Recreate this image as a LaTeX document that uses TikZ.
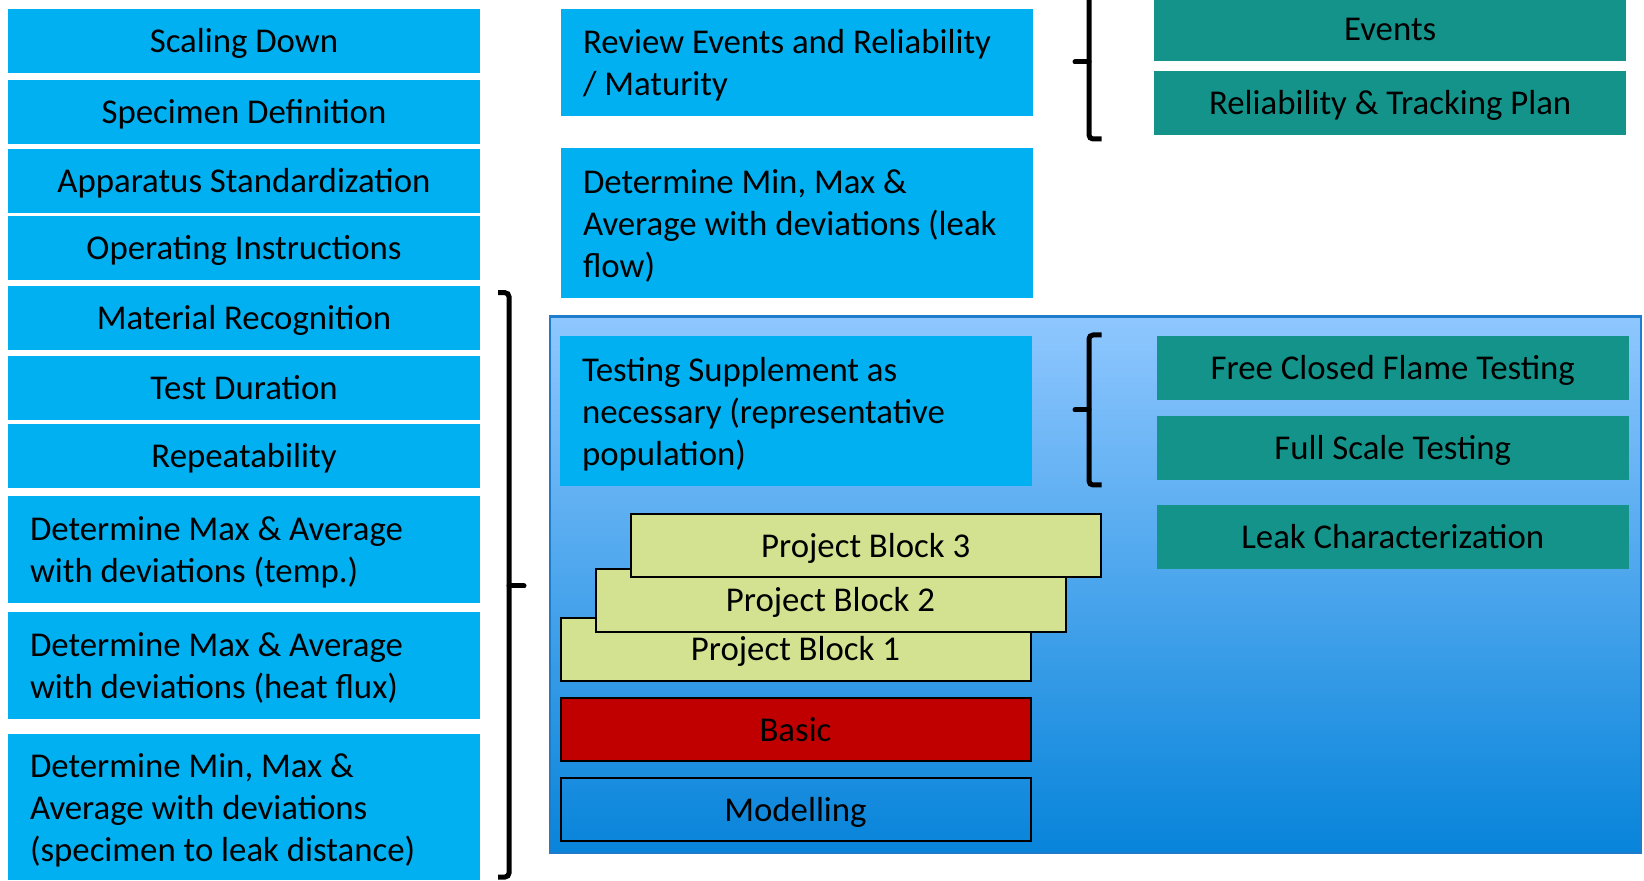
\documentclass[tikz,border=0pt]{standalone}
\usepackage{fontspec}
\setmainfont{Carlito}
\definecolor{cyanc}{HTML}{00B0F0}
\definecolor{tealc}{HTML}{14938B}
\definecolor{blockc}{HTML}{D3E291}
\definecolor{redc}{HTML}{C00000}
\definecolor{gtop}{HTML}{8FC7FF}
\definecolor{gmid}{HTML}{5EA6EE}
\definecolor{gbot}{HTML}{0784DA}
\definecolor{gborder}{HTML}{1F7CCB}
\begin{document}
\begin{tikzpicture}[x=0.5pt,y=-0.5pt,
  base/.style={inner sep=0pt, font=\fontsize{17.4pt}{21pt}\selectfont, text=black, align=center},
  one/.style={text height=11.5pt, text depth=0pt},
  cbox/.style={base, one, fill=cyanc, minimum width=236pt},
  tbox/.style={base, one, fill=tealc, minimum width=236pt, minimum height=32pt},
  pbox/.style={base, one, draw=black, line width=1pt, minimum width=235pt, minimum height=31.5pt},
  txt/.style={base, align=left, anchor=west, yshift=-1.5pt},
  brace/.style={draw=black, line width=2.5pt, rounded corners=2pt}]
\useasboundingbox (0,0) rectangle (1644,881);

% left column
\node[cbox, minimum height=32pt] (l1) at (244,41.3) {Scaling Down};
\node[cbox, minimum height=32pt] (l2) at (244,111.9) {Specimen Definition};
\node[cbox, minimum height=32pt] (l3) at (244,180.9) {Apparatus Standardization};
\node[cbox, minimum height=32pt] (l4) at (244,247.9) {Operating Instructions};
\node[cbox, minimum height=32pt] (l5) at (244,317.9) {Material Recognition};
\node[cbox, minimum height=32pt] (l6) at (244,387.9) {Test Duration};
\node[cbox, minimum height=32pt] (l7) at (244,455.9) {Repeatability};
\node[cbox, minimum height=53.35pt] (l8) at (244,549.4) {};
\node[txt] (l8t) at ([xshift=11pt]l8.west) {Determine Max \& Average\\with deviations (temp.)};
\node[cbox, minimum height=53.35pt] (l9) at (244,665.4) {};
\node[txt] (l9t) at ([xshift=11pt]l9.west) {Determine Max \& Average\\with deviations (heat flux)};
\node[cbox, minimum height=73pt] (l10) at (244,807) {};
\node[txt] (l10t) at ([xshift=11pt]l10.west) {Determine Min, Max \&\\Average with deviations\\(specimen to leak distance)};

% middle top boxes
\node[cbox, minimum height=53.35pt] (rev) at (797,62.3) {};
\node[txt] (revt) at ([xshift=11pt]rev.west) {Review Events and Reliability\\/ Maturity};
\node[cbox, minimum height=74.85pt] (leak) at (797,222.9) {};
\node[txt] (leakt) at ([xshift=11pt]leak.west) {Determine Min, Max \&\\Average with deviations (leak\\flow)};

% gradient panel
\node[inner sep=0pt, draw=gborder, line width=1.2pt, top color=gtop, middle color=gmid, bottom color=gbot,
      minimum width=545.5pt, minimum height=268.15pt] (panel) at (1095.5,584.85) {};

\node[cbox, minimum height=74.85pt] (test) at (796,410.9) {};
\node[txt] (testt) at ([xshift=11pt]test.west) {Testing Supplement as\\necessary (representative\\population)};

% project blocks
\node[pbox, fill=blockc] (pb1) at (795.5,649.15) {Project Block 1};
\node[pbox, fill=blockc] (pb2) at (830.5,600.15) {Project Block 2};
\node[pbox, fill=blockc] (pb3) at (865.75,545.7) {Project Block 3};
\node[pbox, fill=redc] (basic) at (795.5,729.85) {Basic};
\node[pbox] (model) at (795.5,809.85) {Modelling};

% teal boxes
\node[tbox] (ev) at (1390.2,29) {Events};
\node[tbox] (rel) at (1390.2,102.9) {Reliability \& Tracking Plan};
\node[tbox] (fcf) at (1392.75,367.7) {Free Closed Flame Testing};
\node[tbox] (fst) at (1392.75,447.9) {Full Scale Testing};
\node[tbox] (lch) at (1392.75,536.9) {Leak Characterization};

% braces
\draw[brace] (1101.5,-25) -- (1089,-25) -- (1089,139) -- (1101.5,139);
\draw[brace, rounded corners=0pt, line cap=round] (1089,62) -- (1075,62);
\draw[brace] (1101.5,335) -- (1089,335) -- (1089,485) -- (1101.5,485);
\draw[brace, rounded corners=0pt, line cap=round] (1089,410) -- (1075,410);
\draw[brace] (498,292.7) -- (509,292.7) -- (509,877) -- (498,877);
\draw[brace, rounded corners=0pt, line cap=round] (509,586) -- (524,586);
\end{tikzpicture}
\end{document}
